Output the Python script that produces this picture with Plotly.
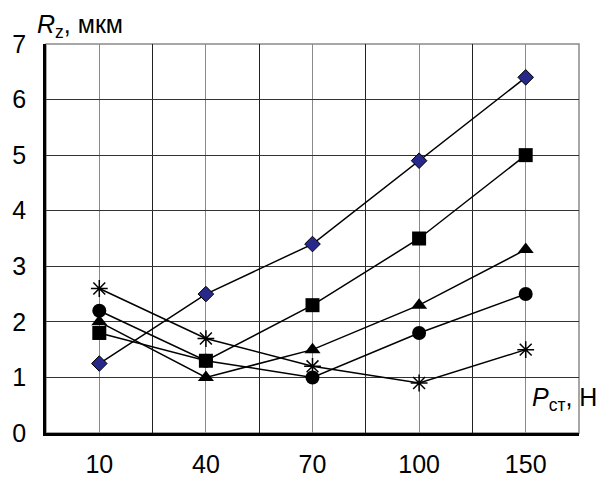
import plotly.graph_objects as go

categories = ["10", "40", "70", "100", "150"]
y_ticks = [0, 1, 2, 3, 4, 5, 6, 7]
s_diamond = [1.25, 2.5, 3.4, 4.9, 6.4]
s_square = [1.8, 1.3, 2.3, 3.5, 5.0]
s_triangle = [2.0, 1.0, 1.5, 2.3, 3.3]
s_circle = [2.2, 1.3, 1.0, 1.8, 2.5]
s_star = [2.6, 1.7, 1.2, 0.9, 1.5]

xpos = list(range(len(categories)))

fig = go.Figure()
series = [
    (s_star, dict(symbol="asterisk-open", size=14, color="black", line=dict(color="black", width=1.5))),
    (s_circle, dict(symbol="circle", size=14, color="black", line=dict(color="black", width=0))),
    (s_triangle, dict(symbol="triangle-up", size=14, color="black", line=dict(color="black", width=0))),
    (s_square, dict(symbol="square", size=14, color="black", line=dict(color="black", width=0))),
    (s_diamond, dict(symbol="diamond", size=12, color="#26288a", line=dict(color="black", width=1))),
]
for vals, mk in series:
    fig.add_trace(go.Scatter(x=xpos, y=vals, mode="lines+markers",
                             line=dict(color="black", width=1.5), marker=mk,
                             showlegend=False, cliponaxis=False))

fig.add_shape(type="rect", xref="paper", yref="paper", x0=0, y0=0, x1=1, y1=1,
              line=dict(color="#8a8a8a", width=1.5), layer="below")

fig.update_layout(
    width=600, height=490,
    margin=dict(l=42, r=21, t=44, b=43),
    paper_bgcolor="white", plot_bgcolor="white",
    font=dict(family="Liberation Sans, Arial, sans-serif", size=25, color="black"),
    xaxis=dict(range=[-0.5, 4.5], tickvals=xpos, ticktext=categories,
               showgrid=True, gridcolor="#8a8a8a", gridwidth=1.2,
               showline=True, linecolor="black", linewidth=2.5,
               ticks="", ticklabelstandoff=7, zeroline=False,
               minor=dict(tick0=-0.5, dtick=1, showgrid=True, gridcolor="#222222", gridwidth=1.2)),
    yaxis=dict(range=[0, 7], tickvals=y_ticks, showgrid=True, gridcolor="#333333", gridwidth=1.2,
               showline=True, linecolor="black", linewidth=2.5, ticks="",
               ticklabelstandoff=12, zeroline=False),
    annotations=[
        dict(xref="paper", yref="paper", x=-0.02, y=1.0, xanchor="left", yanchor="bottom",
             text="<i>R</i><sub>z</sub>, мкм", showarrow=False, font=dict(size=25)),
        dict(xref="paper", yref="paper", x=1.037, y=0.04, xanchor="right", yanchor="bottom",
             text="<i>P</i><sub>ст</sub>, Н", showarrow=False, font=dict(size=25)),
    ],
)

fig.write_html("out.html")
